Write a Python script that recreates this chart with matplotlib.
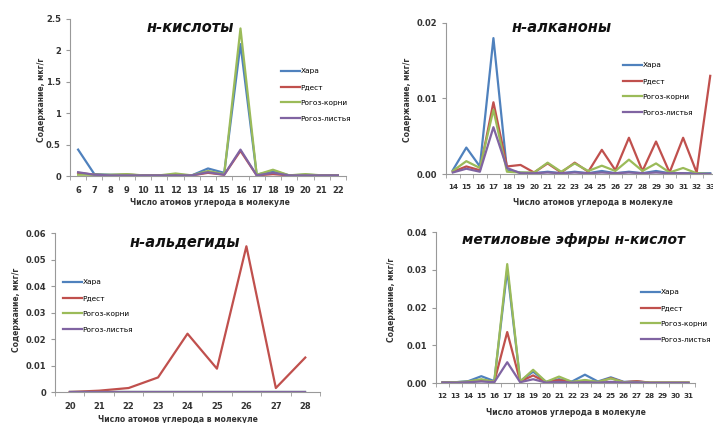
import numpy as np
import matplotlib
matplotlib.use('Agg')
import matplotlib.pyplot as plt

plt.rcParams['font.family'] = ['DejaVu Sans']

names = ['Хара', 'Рдест', 'Рогоз-корни', 'Рогоз-листья']
colors = ['#4F81BD', '#C0504D', '#9BBB59', '#8064A2']
ylab = 'Содержание, мкг/г'
xlab = 'Число атомов углерода в молекуле'

# н-кислоты
acid_x = list(range(6, 23))
acid_hara = [0.42, 0.03, 0.02, 0.02, 0.01, 0.01, 0.02, 0.01, 0.12, 0.05, 2.10, 0.02, 0.08, 0.01, 0.02, 0.01, 0.01]
acid_rdest = [0.05, 0.02, 0.01, 0.02, 0.01, 0.01, 0.01, 0.01, 0.05, 0.02, 0.40, 0.01, 0.03, 0.01, 0.01, 0.01, 0.01]
acid_kor = [0.02, 0.02, 0.02, 0.03, 0.01, 0.01, 0.04, 0.01, 0.08, 0.03, 2.35, 0.02, 0.10, 0.01, 0.03, 0.01, 0.01]
acid_list = [0.06, 0.02, 0.01, 0.01, 0.01, 0.01, 0.01, 0.01, 0.06, 0.02, 0.42, 0.01, 0.05, 0.01, 0.01, 0.01, 0.01]

# н-алканоны
ket_x = list(range(14, 34))
ket_hara = [0.0005, 0.0035, 0.0010, 0.0180, 0.0005, 0.0002, 0.0001, 0.0003, 0.0001, 0.0003,
            0.0001, 0.0004, 0.0001, 0.0003, 0.0001, 0.0004, 0.0001, 0.0001, 0.0001, 0.0001]
ket_rdest = [0.0003, 0.0010, 0.0005, 0.0095, 0.0010, 0.0012, 0.0002, 0.0014, 0.0002, 0.0015,
             0.0003, 0.0032, 0.0005, 0.0048, 0.0004, 0.0043, 0.0002, 0.0048, 0.0002, 0.0130]
ket_kor = [0.0004, 0.0017, 0.0008, 0.0085, 0.0003, 0.0002, 0.0002, 0.0015, 0.0003, 0.0014,
           0.0004, 0.0011, 0.0004, 0.0019, 0.0004, 0.0014, 0.0002, 0.0008, 0.0001, 0.0000]
ket_list = [0.0002, 0.0007, 0.0003, 0.0062, 0.0008, 0.0001, 0.0001, 0.0002, 0.0001, 0.0002,
            0.0001, 0.0002, 0.0001, 0.0002, 0.0001, 0.0002, 0.0001, 0.0001, 0.0000, 0.0000]

# н-альдегиды
ald_x = list(range(20, 29))
ald_hara = [0, 0, 0, 0, 0, 0, 0, 0, 0]
ald_rdest = [0.0, 0.0005, 0.0015, 0.0055, 0.022, 0.0088, 0.055, 0.0015, 0.013]
ald_kor = [0, 0, 0, 0, 0, 0, 0, 0, 0]
ald_list = [0, 0, 0, 0, 0, 0, 0, 0, 0]

# метиловые эфиры н-кислот
est_x = list(range(12, 32))
est_hara = [0.0002, 0.0002, 0.0005, 0.0018, 0.0005, 0.0300, 0.0005, 0.0030, 0.0003, 0.0010,
            0.0004, 0.0022, 0.0004, 0.0015, 0.0003, 0.0004, 0.0001, 0.0001, 0.0001, 0.0001]
est_rdest = [0.0001, 0.0001, 0.0003, 0.0008, 0.0003, 0.0135, 0.0004, 0.0020, 0.0002, 0.0008,
             0.0002, 0.0006, 0.0002, 0.0013, 0.0002, 0.0005, 0.0001, 0.0001, 0.0001, 0.0001]
est_kor = [0.0001, 0.0002, 0.0004, 0.0010, 0.0003, 0.0315, 0.0004, 0.0035, 0.0003, 0.0017,
           0.0003, 0.0008, 0.0003, 0.0012, 0.0002, 0.0003, 0.0001, 0.0001, 0.0001, 0.0001]
est_list = [0.0001, 0.0001, 0.0002, 0.0004, 0.0002, 0.0055, 0.0002, 0.0010, 0.0001, 0.0003,
            0.0001, 0.0002, 0.0001, 0.0003, 0.0001, 0.0002, 0.0000, 0.0000, 0.0000, 0.0000]

W, H = 713, 423
fig = plt.figure(figsize=(W / 100, H / 100), dpi=100)


def box(l, t, r, b):
    return [l / W, 1 - b / H, (r - l) / W, (b - t) / H]


def panel(rect, xs, series, title, tpos, tsize, ymax, ystep, fmt, legpos, ylpos, xlpos, xfs):
    ax = fig.add_axes(box(*rect))
    idx = np.arange(len(xs))
    for s, c, n in zip(series, colors, names):
        ax.plot(idx, s, color=c, lw=1.6, label=n)
    ax.set_xlim(-0.5, len(xs) - 0.5)
    ax.set_ylim(0, ymax)
    yt = np.arange(0, ymax + ystep / 2, ystep)
    ax.set_yticks(yt)
    ax.set_yticklabels([fmt(v) for v in yt])
    ax.set_xticks(idx)
    ax.set_xticklabels([str(v) for v in xs])
    ax.set_xticks(np.arange(-0.5, len(xs)), minor=True)
    ax.tick_params(axis='x', which='major', length=0, pad=7, labelsize=xfs, colors='#333333')
    ax.tick_params(axis='x', which='minor', length=3, color='#999999')
    ax.tick_params(axis='y', length=3, color='#999999', labelsize=6, labelcolor='#333333')
    for sp in ['top', 'right']:
        ax.spines[sp].set_visible(False)
    for sp in ['left', 'bottom']:
        ax.spines[sp].set_color('#999999')
        ax.spines[sp].set_linewidth(0.8)
    for lab in ax.get_xticklabels() + ax.get_yticklabels():
        lab.set_fontweight('bold')
    fig.text(tpos[0] / W, 1 - tpos[1] / H, title, fontsize=tsize, fontweight='bold',
             fontstyle='italic', ha='center', va='center', color='#111111')
    ax.legend(loc='center left', bbox_to_anchor=(legpos[0] / W, 1 - legpos[1] / H),
              bbox_transform=fig.transFigure, frameon=False, fontsize=5.3,
              handlelength=2.6, handletextpad=0.1, labelspacing=1.3, borderpad=0)
    fig.text(ylpos[0] / W, 1 - ylpos[1] / H, ylab, rotation=90, fontsize=5.5,
             fontweight='bold', ha='center', va='center', color='#333333')
    fig.text(xlpos[0] / W, 1 - xlpos[1] / H, xlab, fontsize=5.5,
             fontweight='bold', ha='center', va='center', color='#333333')
    return ax


panel((70, 19, 346, 176), acid_x, [acid_hara, acid_rdest, acid_kor, acid_list],
      'н-кислоты', (190, 28), 10.5, 2.5, 0.5, lambda v: f'{v:g}',
      (277, 95), (42, 100), (210, 202), 6)

panel((446, 23, 717, 174), ket_x, [ket_hara, ket_rdest, ket_kor, ket_list],
      'н-алканоны', (562, 28), 10.5, 0.02, 0.01, lambda v: f'{v:.2f}',
      (619, 89), (408, 100), (593, 202), 5.2)

panel((55, 233, 320, 392), ald_x, [ald_hara, ald_rdest, ald_kor, ald_list],
      'н-альдегиды', (185, 242), 10.5, 0.06, 0.01, lambda v: f'{v:g}',
      (59, 306), (17, 310), (178, 419), 6)

panel((436, 232, 695, 383), est_x, [est_hara, est_rdest, est_kor, est_list],
      'метиловые эфиры н-кислот', (573, 240), 10, 0.04, 0.01, lambda v: f'{v:.2f}',
      (637, 316), (392, 300), (566, 412), 5.2)

fig.savefig('out.png', dpi=100)
